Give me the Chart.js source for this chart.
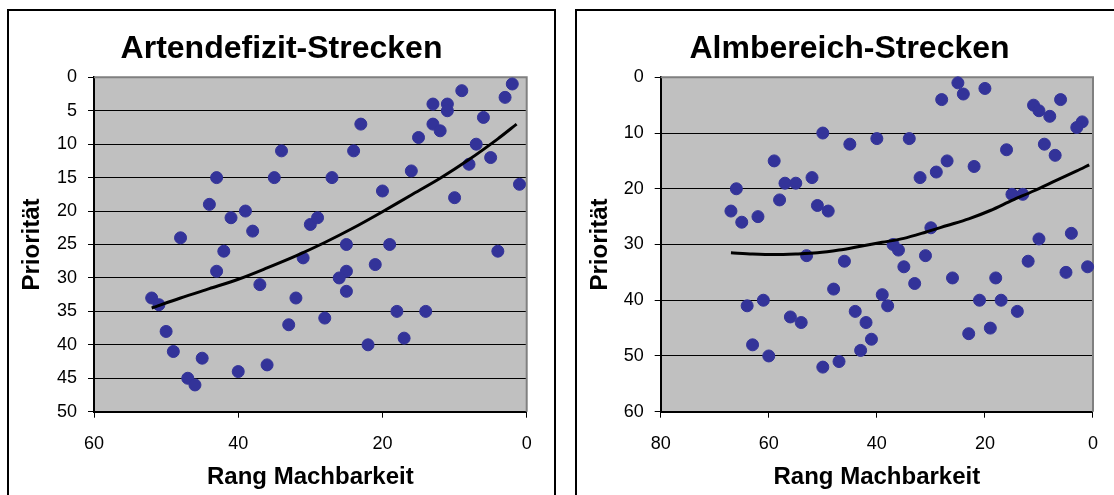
<!DOCTYPE html>
<html>
<head>
<meta charset="utf-8">
<script src="https://cdn.jsdelivr.net/npm/chart.js@4/dist/chart.umd.min.js"></script>
<style>
  body { margin: 0; background: #fff; width: 1114px; height: 495px; overflow: hidden; position: relative; }
  .panel { position: absolute; border: 2px solid #000; box-sizing: border-box; }
  canvas { position: absolute; }
</style>
</head>
<body>
<div class="panel" style="left:7px; top:9px; width:549px; height:520px;"></div>
<div class="panel" style="left:575px; top:9px; width:600px; height:520px;"></div>
<canvas id="left" width="545" height="484" style="left:9px; top:11px;"></canvas>
<canvas id="right" width="537" height="484" style="left:577px; top:11px;"></canvas>
<script>
// Artendefizit-Strecken: Rang Machbarkeit vs. Priorität
const leftRank = [2, 9, 3, 13, 11, 11, 6, 13, 12, 23, 15, 7, 24, 5, 8, 27, 16, 1, 20, 10,
  30, 29, 25, 19, 4, 34, 43, 35, 44, 39, 41, 38, 48, 42, 43, 31, 37, 52, 51, 32,
  28, 33, 50, 49, 45, 36, 40, 47, 46, 21, 25, 26, 25, 18, 14, 17, 22];
const leftPrio = [1, 2, 3, 4, 4, 5, 6, 7, 8, 7, 9, 10, 11, 12, 13, 15, 14, 16, 17, 18,
  22, 21, 25, 25, 26, 11, 15, 15, 19, 20, 21, 23, 24, 26, 29, 27, 31, 33, 34, 33,
  36, 37, 38, 41, 42, 43, 44, 45, 46, 28, 29, 30, 32, 35, 35, 39, 40];
const leftTrendX = [52, 48, 44, 40, 36, 32, 28, 24, 20, 16, 12, 8, 4, 1.4];
const leftTrendY = [34.5, 33.0, 31.6, 30.2, 28.5, 26.7, 24.7, 22.5, 20.1, 17.6, 15.1, 12.3, 9.2, 7];

// Almbereich-Strecken
const rightRank = [50, 45, 59, 66, 57, 55, 52, 58, 51, 49, 67, 65, 62,
  25, 24, 20, 28, 11, 10, 6, 8, 2, 3, 40, 34, 16, 9, 7, 27, 29, 32, 22, 15, 13, 30, 10, 4,
  53, 46, 48, 64, 61, 56, 54, 44, 42, 41, 43, 63, 60, 50, 47,
  37, 36, 31, 35, 33, 26, 39, 38, 21, 17, 18, 14, 23, 19, 12, 5, 1];
const rightPrio = [10, 12, 15, 20, 19, 19, 18, 22, 23, 24, 24, 26, 25,
  1, 3, 2, 4, 5, 6, 4, 7, 8, 9, 11, 11, 13, 12, 14, 15, 17, 18, 16, 21, 21, 27, 29, 28,
  32, 33, 38, 41, 40, 43, 44, 42, 44, 47, 49, 48, 50, 52, 51,
  30, 31, 32, 34, 37, 36, 39, 41, 40, 40, 36, 42, 46, 45, 33, 35, 34];
const rightTrendX = [67, 63, 59, 55, 51, 47, 43, 39, 35, 31, 27, 23, 19, 15, 11, 7, 3, 0.7];
const rightTrendY = [31.5, 31.7, 31.8, 31.7, 31.5, 31.0, 30.3, 29.6, 28.9, 27.8, 26.6, 25.4, 23.9, 22.1, 20.4, 18.6, 16.8, 15.7];

const FONT = "'Liberation Sans', Arial, sans-serif";

const plotBg = {
  id: 'plotBg',
  beforeDraw(chart) {
    const { ctx, chartArea: a } = chart;
    ctx.save();
    ctx.fillStyle = '#c0c0c0';
    ctx.fillRect(a.left, a.top, a.right - a.left, a.bottom - a.top);
    ctx.restore();
  },
  beforeDatasetsDraw(chart) {
    const { ctx, chartArea: a } = chart;
    ctx.save();
    ctx.strokeStyle = '#808080';
    ctx.lineWidth = 2;
    ctx.beginPath();
    ctx.moveTo(a.left, a.top);
    ctx.lineTo(a.right, a.top);
    ctx.lineTo(a.right, a.bottom);
    ctx.stroke();
    ctx.restore();
  },
  afterDraw(chart, args, opts) {
    const ctx = chart.ctx;
    ctx.save();
    ctx.font = 'bold 32px ' + FONT;
    ctx.fillStyle = '#000';
    ctx.textAlign = 'center';
    ctx.textBaseline = 'middle';
    ctx.fillText(opts.text, chart.width / 2 + opts.dx, 38);
    ctx.restore();
  }
};

function points(xs, ys) {
  return xs.map((x, i) => ({ x: x, y: ys[i] }));
}

function makeChart(id, cfg) {
  return new Chart(document.getElementById(id), {
    type: 'scatter',
    data: {
      datasets: [
        {
          type: 'line',
          data: points(cfg.trendX, cfg.trendY),
          borderColor: '#000',
          borderWidth: 3,
          pointRadius: 0,
          tension: 0.3,
          fill: false,
          order: 0,
          clip: false
        },
        {
          data: points(cfg.rank, cfg.prio),
          backgroundColor: '#333399',
          borderColor: '#333399',
          borderWidth: 1,
          pointRadius: 6,
          order: 1,
          clip: false
        }
      ]
    },
    options: {
      responsive: false,
      animation: false,
      layout: { padding: { left: 0, right: cfg.padRight, top: 66.3, bottom: 0 } },
      plugins: {
        legend: { display: false },
        tooltip: { enabled: false },
        plotBg: { text: cfg.title, dx: cfg.titleDx }
      },
      scales: {
        x: {
          type: 'linear',
          reverse: true,
          min: 0,
          max: cfg.xMax,
          afterFit: (s) => { s.height = 83.3; },
          ticks: { stepSize: 20, color: '#000', padding: 16, font: { family: FONT, size: 18 } },
          grid: { drawOnChartArea: false, tickLength: 6, tickColor: '#000' },
          border: { color: '#000', width: 2 },
          title: {
            display: true,
            text: 'Rang Machbarkeit',
            color: '#000',
            font: { family: FONT, size: 24, weight: 'bold' },
            padding: { top: 0, bottom: 3 }
          }
        },
        y: {
          reverse: true,
          min: 0,
          max: cfg.yMax,
          afterFit: (s) => { s.width = cfg.yWidth; },
          ticks: { stepSize: cfg.yStep, color: '#000', padding: 11, font: { family: FONT, size: 18 } },
          grid: { color: '#000', lineWidth: 1, tickLength: 6, tickColor: '#000' },
          border: { color: '#000', width: 2 },
          title: {
            display: true,
            text: 'Priorität',
            color: '#000',
            font: { family: FONT, size: 24, weight: 'bold' },
            padding: { top: 9, bottom: 0 }
          }
        }
      }
    },
    plugins: [plotBg]
  });
}

makeChart('left', {
  title: 'Artendefizit-Strecken', titleDx: 0,
  rank: leftRank, prio: leftPrio, trendX: leftTrendX, trendY: leftTrendY,
  xMax: 60, yMax: 50, yStep: 5, yWidth: 85, padRight: 27.3
});

makeChart('right', {
  title: 'Almbereich-Strecken', titleDx: 4,
  rank: rightRank, prio: rightPrio, trendX: rightTrendX, trendY: rightTrendY,
  xMax: 80, yMax: 60, yStep: 10, yWidth: 83.7, padRight: 20.7
});
</script>
</body>
</html>
